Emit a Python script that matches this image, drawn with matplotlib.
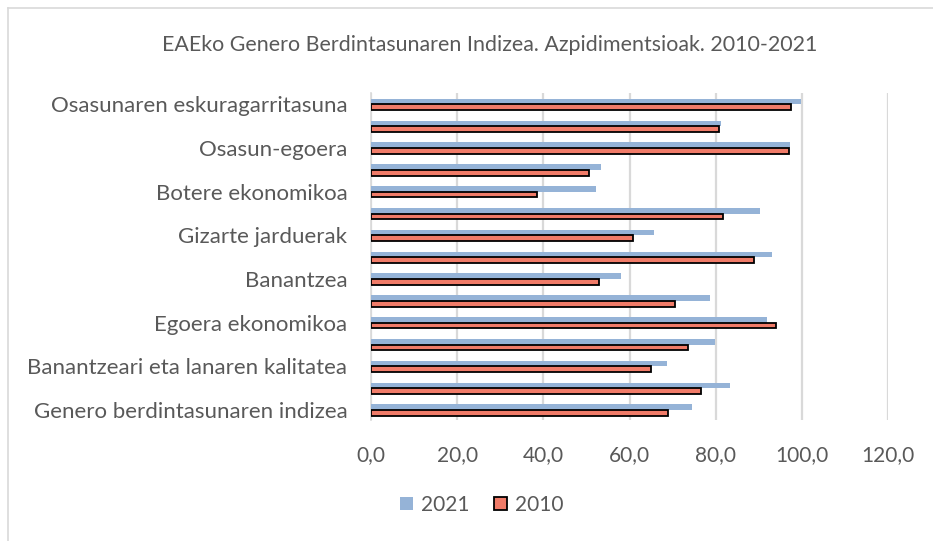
import matplotlib.pyplot as plt
import numpy as np
from matplotlib.lines import Line2D
from matplotlib.patches import Patch

plt.rcParams["font.family"] = ["Lato", "DejaVu Sans"]

TITLE = "EAEko Genero Berdintasunaren Indizea. Azpidimentsioak. 2010-2021"
# 15 rows top to bottom; only every other label is printed in the original
labels = ["Osasunaren eskuragarritasuna", "", "Osasun-egoera", "", "Botere ekonomikoa", "",
          "Gizarte jarduerak", "", "Banantzea", "", "Egoera ekonomikoa", "",
          "Banantzeari eta lanaren kalitatea", "", "Genero berdintasunaren indizea"]
v2021 = [99.8, 81.3, 97.2, 53.3, 52.2, 90.2, 65.8, 93.0, 58.1, 78.8, 91.9, 79.8, 68.6, 83.3, 74.5]
v2010 = [97.5, 80.7, 97.1, 50.7, 38.5, 81.8, 60.9, 88.8, 53.0, 70.6, 93.9, 73.6, 65.1, 76.7, 68.9]
xticks = [0, 20, 40, 60, 80, 100, 120]

BLUE = "#95b3d7"
RED = "#f07b68"
TXT = "#595959"
GRID = "#d9d9d9"

fig = plt.figure(figsize=(9.33, 5.41), dpi=100)
ax = fig.add_axes([371 / 933, 1 - 420 / 541, 517 / 933, 327 / 541])

y = np.arange(len(labels))
h = 0.26
ax.barh(y - h / 2, v2021, height=h, color=BLUE, zorder=3, label="2021")
ax.barh(y + h / 2, v2010, height=h, color=RED, edgecolor="black", linewidth=1.3, zorder=3, label="2010")

ax.set_xlim(0, 120)
ax.set_ylim(14.45, -0.52)
ax.set_xticks(xticks)
ax.set_xticklabels([f"{t:.1f}".replace(".", ",") for t in xticks], fontsize=15, color=TXT)
ax.set_yticks(y)
ax.set_yticklabels(labels, fontsize=16, color=TXT)
ax.tick_params(length=0)
ax.tick_params(axis="y", pad=17)
ax.tick_params(axis="x", pad=18)
ax.grid(axis="x", color=GRID, lw=1.6, zorder=0)
for s in ["top", "right", "bottom"]:
    ax.spines[s].set_visible(False)
ax.spines["left"].set_color(GRID)
ax.spines["left"].set_linewidth(1.2)

fig.text(490 / 933, 1 - 45 / 541, TITLE, ha="center", va="center", fontsize=15.4, color=TXT)

handles = [Patch(facecolor=BLUE, edgecolor="none", label="2021"),
           Patch(facecolor=RED, edgecolor="black", linewidth=1.3, label="2010")]
fig.legend(handles=handles, loc="center", bbox_to_anchor=(482 / 933, 1 - 505 / 541), ncol=2,
           frameon=False, fontsize=15, labelcolor=TXT, handlelength=0.6, handleheight=0.6,
           handletextpad=0.4, columnspacing=1.2)

# chart-area border (left and top edges visible)
fig.add_artist(Line2D([8 / 933, 8 / 933], [0, 1 - 8 / 541], color=GRID, lw=1.2))
fig.add_artist(Line2D([8 / 933, 1], [1 - 8 / 541, 1 - 8 / 541], color=GRID, lw=1.2))

fig.savefig("out.png")
